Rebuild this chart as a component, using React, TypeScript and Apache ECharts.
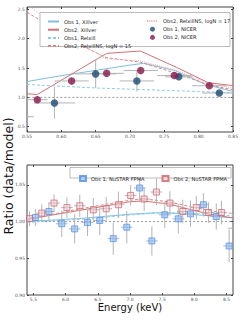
import React, { useEffect, useRef } from "react";
import * as echarts from "echarts";

// ---------- Top panel (NICER) ----------
const topXTicks = [0.55, 0.6, 0.65, 0.7, 0.75, 0.8, 0.85];
const topYTicks = [0.5, 1.0, 1.5, 2.0, 2.5];

const xill1X = [0.55, 0.6, 0.65, 0.7, 0.72, 0.765, 0.81, 0.85];
const xill1Y = [1.27, 1.37, 1.46, 1.55, 1.58, 1.46, 1.22, 1.1];
const xill2X = [0.55, 0.565, 0.666, 0.715, 0.768, 0.814, 0.85];
const xill2Y = [1.06, 1.05, 1.75, 1.79, 1.51, 1.25, 1.2];
const relx1X = [0.55, 0.6, 0.65, 0.7, 0.75, 0.8, 0.85];
const relx1Y = [1.22, 1.19, 1.16, 1.14, 1.12, 1.1, 1.08];
const ns15X = [0.55, 0.63, 0.665, 0.715, 0.77, 0.815, 0.85];
const ns15Y = [2.45, 1.88, 1.68, 1.6, 1.4, 1.21, 1.13];
const ns17X = [0.55, 0.635, 0.665, 0.715, 0.77, 0.815, 0.85];
const ns17Y = [2.58, 1.86, 1.66, 1.62, 1.45, 1.23, 1.16];

const nicer1X = [0.53, 0.59, 0.65, 0.71, 0.771, 0.83];
const nicer1Y = [0.67, 0.905, 1.4, 1.28, 1.35, 1.075];
const nicer1XErr = [0.03, 0.03, 0.03, 0.025, 0.02, 0.025];
const nicer1YErr = [0.3, 0.27, 0.24, 0.18, 0.05, 0.03];
const nicer2X = [0.565, 0.615, 0.666, 0.7156, 0.7645, 0.8155];
const nicer2Y = [0.96, 1.28, 1.41, 1.457, 1.373, 1.198];
const nicer2XErr = [0.015, 0.025, 0.025, 0.025, 0.025, 0.025];
const nicer2YErr = [0.05, 0.06, 0.05, 0.06, 0.04, 0.03];

// ---------- Bottom panel (NuSTAR) ----------
const botXTicks = [5.5, 6.0, 6.5, 7.0, 7.5, 8.0, 8.5];
const botYTicks = [0.9, 0.95, 1.0, 1.05];

const nu1X = [5.53, 5.74, 5.94, 6.14, 6.34, 6.53, 6.74, 6.95, 7.15, 7.34, 7.54, 7.75, 7.94, 8.14, 8.34, 8.54];
const nu1Y = [1.0055, 1.0137, 0.997, 0.99, 0.9986, 1.0014, 0.9767, 0.9923, 1.0457, 0.9736, 1.0092, 1.0037, 1.0105, 1.0229, 1.0068, 0.9667];
const nu1YErr = [0.012, 0.012, 0.018, 0.02, 0.018, 0.02, 0.022, 0.022, 0.018, 0.02, 0.018, 0.02, 0.018, 0.016, 0.018, 0.022];
const nu2X = [5.44, 5.63, 5.82, 6.02, 6.22, 6.43, 6.63, 6.82, 7.01, 7.22, 7.41, 7.62, 7.82, 8.03, 8.22, 8.42, 8.61];
const nu2Y = [1.004, 1.0115, 1.0252, 1.019, 1.0215, 1.016, 1.0174, 1.0229, 1.0356, 1.0307, 1.0402, 1.0252, 1.0137, 1.019, 1.0123, 1.0123, 0.991];
const nu2YErr = [0.01, 0.012, 0.012, 0.014, 0.015, 0.016, 0.016, 0.018, 0.014, 0.016, 0.018, 0.016, 0.016, 0.016, 0.014, 0.016, 0.018];
const nuXErr = 0.09;

const bx1X = [5.4, 5.8, 6.2, 6.6, 7.0, 7.4, 7.8, 8.2, 8.6];
const bx1Y = [1.0, 1.002, 1.004, 1.007, 1.01, 1.012, 1.011, 1.008, 1.005];
const br1Y = [0.999, 1.001, 1.003, 1.006, 1.009, 1.0115, 1.012, 1.01, 1.008];
const bx2X = [5.4, 5.8, 6.2, 6.6, 7.0, 7.2, 7.6, 8.0, 8.3, 8.6];
const bx2Y = [1.003, 1.009, 1.015, 1.021, 1.027, 1.028, 1.024, 1.015, 1.009, 1.005];
const bn15Y = [1.002, 1.01, 1.017, 1.023, 1.029, 1.031, 1.027, 1.019, 1.014, 1.011];

const FONT = "DejaVu Sans";
const C_X1 = "#7fbfdc";
const C_X2 = "#d27272";
const C_R1 = "#8fcbe8";
const C_N15 = "#d88888";
const C_N17 = "#eaa8b2";
const C_NI1 = "#1b4a74";
const C_NI2 = "#8a1a4c";
const ERR = "#b4b4b4";

const pairs = (xs: number[], ys: number[]) => xs.map((x, i) => [x, ys[i]]);

function errRender(color: string) {
  return (params: any, api: any) => {
    const x = api.value(0), y = api.value(1), xe = api.value(2), ye = api.value(3);
    const a = api.coord([x - xe, y]);
    const b = api.coord([x + xe, y]);
    const c = api.coord([x, y - ye]);
    const d = api.coord([x, y + ye]);
    const style = { stroke: color, lineWidth: 1 };
    return {
      type: "group",
      children: [
        { type: "line", shape: { x1: a[0], y1: a[1], x2: b[0], y2: b[1] }, style },
        { type: "line", shape: { x1: c[0], y1: c[1], x2: d[0], y2: d[1] }, style },
      ],
    };
  };
}

const tickLabel = { fontSize: 4.5, color: "#555", fontFamily: FONT, margin: 2 };
const lineItem = (name: string) => ({ name, itemStyle: { opacity: 0 } });

export default function App() {
  const ref = useRef<HTMLDivElement>(null);
  useEffect(() => {
    const chart = echarts.init(ref.current!, null, { renderer: "svg" });
    const lineS = (name: string, xs: number[], ys: number[], color: string, type: any, xi: number, w = 1) => ({
      name,
      type: "line",
      xAxisIndex: xi,
      yAxisIndex: xi,
      data: pairs(xs, ys),
      symbol: "none",
      lineStyle: { color, width: w, type },
      itemStyle: { color },
      z: 2,
    });
    const refLine = (xi: number, xs: number[]) => ({
      type: "line",
      xAxisIndex: xi,
      yAxisIndex: xi,
      data: [[xs[0] - 1, 1.0], [xs[xs.length - 1] + 1, 1.0]],
      symbol: "none",
      silent: true,
      lineStyle: { color: "#999", width: 1, type: [2, 2] },
      z: 1,
    });
    const legText = { fontSize: 5.1, color: "#222", fontFamily: FONT };
    const option: any = {
      animation: false,
      textStyle: { fontFamily: FONT },
      grid: [
        { left: 27, right: 13, top: 7, height: 125, show: true, borderColor: "#444", borderWidth: 1 },
        { left: 27, right: 13, top: 165, height: 130, show: true, borderColor: "#444", borderWidth: 1 },
      ],
      xAxis: [
        {
          type: "value", gridIndex: 0, min: 0.55, max: 0.85,
          axisLine: { show: false }, splitLine: { show: false },
          axisTick: { inside: true, length: 2, lineStyle: { color: "#444" }, customValues: topXTicks },
          axisLabel: { ...tickLabel, customValues: topXTicks, formatter: (v: number) => v.toFixed(2) },
        },
        {
          type: "value", gridIndex: 1, min: 5.4, max: 8.6,
          axisLine: { show: false }, splitLine: { show: false },
          axisTick: { inside: true, length: 2, lineStyle: { color: "#444" }, customValues: botXTicks },
          axisLabel: { ...tickLabel, customValues: botXTicks, formatter: (v: number) => v.toFixed(1) },
        },
        {
          type: "value", gridIndex: 0, position: "top", min: 0.55, max: 0.85,
          axisLine: { show: false }, splitLine: { show: false }, axisLabel: { show: false },
          axisTick: { inside: true, length: 2, lineStyle: { color: "#444" }, customValues: topXTicks },
        },
        {
          type: "value", gridIndex: 1, position: "top", min: 5.4, max: 8.6,
          axisLine: { show: false }, splitLine: { show: false }, axisLabel: { show: false },
          axisTick: { inside: true, length: 2, lineStyle: { color: "#444" }, customValues: botXTicks },
        },
      ],
      yAxis: [
        {
          type: "value", gridIndex: 0, min: 0.41, max: 2.54,
          axisLine: { show: false }, splitLine: { show: false },
          axisTick: { inside: true, length: 2, lineStyle: { color: "#444" }, customValues: topYTicks },
          axisLabel: { ...tickLabel, customValues: topYTicks, formatter: (v: number) => v.toFixed(1) },
        },
        {
          type: "value", gridIndex: 1, min: 0.9, max: 1.077,
          axisLine: { show: false }, splitLine: { show: false },
          axisTick: { inside: true, length: 2, lineStyle: { color: "#444" }, customValues: botYTicks },
          axisLabel: { ...tickLabel, customValues: botYTicks, formatter: (v: number) => v.toFixed(2) },
        },
        {
          type: "value", gridIndex: 0, position: "right", min: 0.41, max: 2.54,
          axisLine: { show: false }, splitLine: { show: false }, axisLabel: { show: false },
          axisTick: { inside: true, length: 2, lineStyle: { color: "#444" }, customValues: topYTicks },
        },
        {
          type: "value", gridIndex: 1, position: "right", min: 0.9, max: 1.077,
          axisLine: { show: false }, splitLine: { show: false }, axisLabel: { show: false },
          axisTick: { inside: true, length: 2, lineStyle: { color: "#444" }, customValues: botYTicks },
        },
      ],
      legend: [
        {
          orient: "vertical", left: 42, top: 14, itemWidth: 11, itemHeight: 5, itemGap: 3.2,
          textStyle: legText,
          data: [lineItem("Obs 1, Xillver"), lineItem("Obs2, Xillver"), lineItem("Obs1, Relxill"), lineItem("Obs2, RelxillNS, logN = 15")],
          z: 10,
        },
        {
          orient: "vertical", left: 141, top: 13.5, itemWidth: 11, itemHeight: 5, itemGap: 3.2,
          textStyle: legText,
          data: [lineItem("Obs2, RelxillNS, logN = 17"), "Obs 1, NICER", "Obs 2, NICER"],
          z: 10,
        },
        {
          orient: "horizontal", left: 74, top: 170, itemWidth: 6, itemHeight: 5, itemGap: 17,
          textStyle: legText,
          data: ["Obs 1, NuSTAR FPMA", "Obs 2, NuSTAR FPMA"],
          z: 10,
        },
      ],
      graphic: [
        { type: "rect", z: 5, shape: { x: 40, y: 12.5, width: 190, height: 34 }, style: { fill: "#fff", stroke: "#aaa", lineWidth: 0.8 } },
        { type: "rect", z: 5, shape: { x: 70, y: 167.5, width: 161, height: 10.5 }, style: { fill: "#fff", stroke: "#aaa", lineWidth: 0.8 } },
        { type: "text", x: 130, y: 307, style: { text: "Energy (keV)", fontSize: 10, fontFamily: FONT, fill: "#111", textAlign: "center", textVerticalAlign: "middle" } },
        { type: "text", x: 8, y: 176, rotation: Math.PI / 2, style: { text: "Ratio (data/model)", fontSize: 12.5, fontFamily: FONT, fill: "#111", textAlign: "center", textVerticalAlign: "middle" } },
      ],
      series: [
        refLine(0, topXTicks),
        lineS("Obs 1, Xillver", xill1X, xill1Y, C_X1, "solid", 0),
        lineS("Obs2, Xillver", xill2X, xill2Y, C_X2, "solid", 0),
        lineS("Obs1, Relxill", relx1X, relx1Y, C_R1, [3, 2], 0),
        lineS("Obs2, RelxillNS, logN = 15", ns15X, ns15Y, C_N15, [3, 2], 0),
        lineS("Obs2, RelxillNS, logN = 17", ns17X, ns17Y, C_N17, [1, 1.2], 0),
        {
          type: "custom", xAxisIndex: 0, yAxisIndex: 0, clip: true, silent: true, z: 3,
          renderItem: errRender(ERR), encode: { x: 0, y: 1 },
          data: nicer1X.map((x, i) => [x, nicer1Y[i], nicer1XErr[i], nicer1YErr[i]]),
        },
        {
          type: "custom", xAxisIndex: 0, yAxisIndex: 0, clip: true, silent: true, z: 3,
          renderItem: errRender(ERR), encode: { x: 0, y: 1 },
          data: nicer2X.map((x, i) => [x, nicer2Y[i], nicer2XErr[i], nicer2YErr[i]]),
        },
        {
          name: "Obs 1, NICER", type: "scatter", xAxisIndex: 0, yAxisIndex: 0, clip: true, z: 4,
          symbol: "circle", symbolSize: 7.5, itemStyle: { color: C_NI1 },
          data: pairs(nicer1X, nicer1Y),
        },
        {
          name: "Obs 2, NICER", type: "scatter", xAxisIndex: 0, yAxisIndex: 0, clip: true, z: 4,
          symbol: "circle", symbolSize: 7.5, itemStyle: { color: C_NI2 },
          data: pairs(nicer2X, nicer2Y),
        },
        // bottom
        refLine(1, botXTicks),
        lineS("b1x", bx1X, bx1Y, C_X1, "solid", 1),
        lineS("b1r", bx1X, br1Y, C_R1, [3, 2], 1),
        lineS("b2x", bx2X, bx2Y, C_X2, "solid", 1),
        lineS("b2n", bx2X, bn15Y, C_N15, [3, 2], 1),
        {
          type: "custom", xAxisIndex: 1, yAxisIndex: 1, clip: true, silent: true, z: 3,
          renderItem: errRender(ERR), encode: { x: 0, y: 1 },
          data: nu1X.map((x, i) => [x, nu1Y[i], nuXErr, nu1YErr[i]]),
        },
        {
          type: "custom", xAxisIndex: 1, yAxisIndex: 1, clip: true, silent: true, z: 3,
          renderItem: errRender(ERR), encode: { x: 0, y: 1 },
          data: nu2X.map((x, i) => [x, nu2Y[i], nuXErr, nu2YErr[i]]),
        },
        {
          name: "Obs 1, NuSTAR FPMA", type: "scatter", xAxisIndex: 1, yAxisIndex: 1, clip: true, z: 4,
          symbol: "rect", symbolSize: 6,
          itemStyle: { color: "rgba(140,185,245,0.75)", borderColor: "#4f8fe6", borderWidth: 0.9 },
          data: pairs(nu1X, nu1Y),
        },
        {
          name: "Obs 2, NuSTAR FPMA", type: "scatter", xAxisIndex: 1, yAxisIndex: 1, clip: true, z: 4,
          symbol: "rect", symbolSize: 6,
          itemStyle: { color: "rgba(245,205,210,0.6)", borderColor: "#cf5d6c", borderWidth: 0.9 },
          data: pairs(nu2X, nu2Y),
        },
      ],
    };
    chart.setOption(option);
    return () => chart.dispose();
  }, []);
  return <div ref={ref} style={{ width: 246, height: 324, position: "absolute", left: 0, top: 0 }} />;
}
